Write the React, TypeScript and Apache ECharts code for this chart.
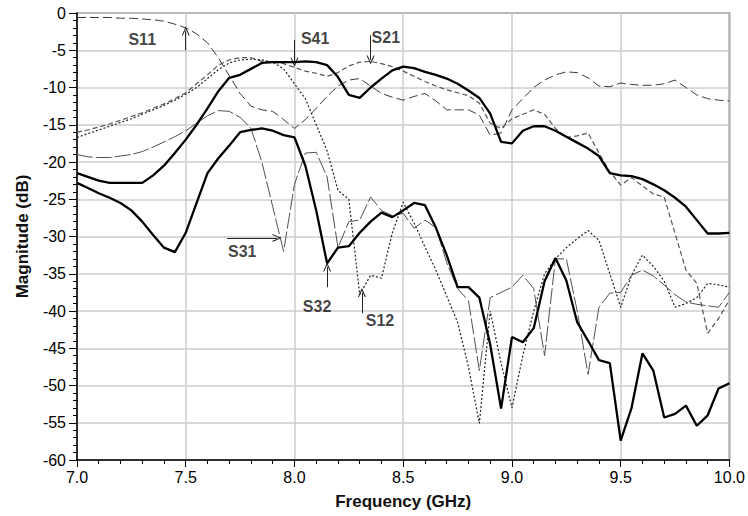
import React, { useEffect, useRef } from "react";
import * as echarts from "echarts";

const freq = [
  7.0, 7.05, 7.1, 7.15, 7.2, 7.25, 7.3, 7.35, 7.4, 7.45,
  7.5, 7.55, 7.6, 7.65, 7.7, 7.75, 7.8, 7.85, 7.9, 7.95,
  8.0, 8.05, 8.1, 8.15, 8.2, 8.25, 8.3, 8.35, 8.4, 8.45,
  8.5, 8.55, 8.6, 8.65, 8.7, 8.75, 8.8, 8.85, 8.9, 8.95,
  9.0, 9.05, 9.1, 9.15, 9.2, 9.25, 9.3, 9.35, 9.4, 9.45,
  9.5, 9.55, 9.6, 9.65, 9.7, 9.75, 9.8, 9.85, 9.9, 9.95,
  10.0,
];

const s11 = [
  -0.6, -0.6, -0.6, -0.6, -0.7, -0.7, -0.8, -0.9, -1.1, -1.5,
  -2.0, -2.8, -4.0, -6.0, -8.4, -10.8, -12.5, -13.0, -13.2, -14.3,
  -15.5, -14.3, -12.8, -11.2, -9.8, -9.0, -8.8, -9.8, -10.8, -11.3,
  -11.7, -11.2, -10.8, -11.8, -13.0, -13.0, -13.0, -13.7, -16.4, -16.1,
  -13.0, -11.5, -10.0, -9.0, -8.3, -7.9, -8.0, -8.7, -9.8, -9.9,
  -9.4, -9.6, -9.7, -9.7, -9.5, -9.0, -10.0, -11.0, -11.5, -11.7,
  -11.8,
];

const s21 = [
  -16.0, -15.7, -15.3, -14.9, -14.4, -13.9, -13.4, -12.8, -12.2, -11.5,
  -10.7, -9.5, -8.3, -7.0, -6.3, -6.0, -6.0, -6.5, -6.6, -6.8,
  -7.3, -7.8, -8.1, -8.5, -8.0, -7.1, -6.6, -6.5, -6.8, -7.2,
  -7.8, -8.5, -9.2, -9.8, -10.3, -10.7, -11.1, -12.1, -14.8, -15.5,
  -14.2, -13.6, -13.0, -13.6, -15.5, -16.7, -16.5, -16.1, -18.8, -21.3,
  -23.1, -22.1, -23.2, -24.3, -24.7, -29.6, -34.5, -36.3, -43.0, -41.0,
  -38.5,
];

const s12 = [
  -16.7, -16.2, -15.7, -15.2, -14.7, -14.2, -13.6, -13.0, -12.4, -11.7,
  -10.9, -10.0, -8.8, -7.6, -6.7, -6.3, -6.2, -6.3, -6.6, -7.5,
  -9.5, -11.5, -15.0, -18.5, -23.8, -25.0, -37.8, -35.2, -35.6, -29.5,
  -25.4, -28.2, -31.4, -34.5, -38.0, -41.5, -47.5, -55.1, -40.0, -47.0,
  -53.0, -46.0, -40.0, -35.0, -33.0, -31.5, -30.3, -29.2, -30.5, -35.0,
  -39.5, -35.2, -32.5, -34.0, -36.0, -39.5, -39.0, -38.2, -36.3, -36.5,
  -36.8,
];

const s31 = [
  -19.0, -19.3, -19.4, -19.4, -19.2, -19.0, -18.6, -18.0, -17.3, -16.6,
  -15.8, -14.8, -13.8, -13.1, -13.2, -14.0, -15.5, -20.0, -26.0, -32.0,
  -23.0, -18.8, -18.7, -22.0, -31.5, -28.0, -27.8, -24.7, -26.5, -27.2,
  -26.9, -28.9, -27.8, -28.8, -33.5, -37.0, -38.6, -48.0, -38.2, -37.5,
  -36.8, -35.2, -37.0, -46.0, -33.0, -33.0, -40.0, -48.5, -39.5, -37.6,
  -37.5, -35.2, -34.5, -35.3, -36.5, -37.8, -38.8, -39.1, -39.3, -39.5,
  -37.5,
];

const s41 = [
  -21.5, -22.0, -22.5, -22.8, -22.8, -22.8, -22.8, -21.8, -20.5, -18.8,
  -17.0, -15.0, -12.8, -10.5, -8.7, -8.3, -7.5, -6.7, -6.6, -6.6,
  -6.6, -6.5, -6.6, -7.0, -8.6, -11.0, -11.4, -10.0, -8.8, -7.7,
  -7.2, -7.4, -7.9, -8.3, -8.8, -9.5, -10.4, -11.4, -13.5, -17.3,
  -17.5, -15.8, -15.2, -15.2, -15.8, -16.6, -17.4, -18.2, -19.2, -21.5,
  -21.8, -21.9, -22.3, -23.0, -23.8, -24.8, -26.0, -27.8, -29.6, -29.6,
  -29.5,
];

const s32 = [
  -22.8, -23.5, -24.2, -24.8, -25.5, -26.5, -28.0, -29.8, -31.5, -32.1,
  -29.5, -25.5, -21.5, -19.5, -17.8, -16.0, -15.7, -15.5, -15.8, -16.4,
  -16.7, -20.5, -26.5, -33.6, -31.5, -31.3, -29.5, -28.0, -26.8, -27.4,
  -26.5, -25.5, -25.8, -28.8, -32.5, -36.8, -36.8, -38.2, -44.5, -53.1,
  -43.5, -44.2, -42.3, -36.0, -32.9, -35.9, -41.5, -44.0, -46.6, -47.0,
  -57.4, -53.0, -45.7, -48.0, -54.3, -53.8, -52.7, -55.4, -54.0, -50.4,
  -49.7,
];

// annotation labels: [freq, dB, text]
const labelPoints: [number, number, string][] = [
  [7.3, -3.6, "S11"],
  [8.095, -3.4, "S41"],
  [8.42, -3.3, "S21"],
  [7.76, -32.0, "S31"],
  [8.104, -39.4, "S32"],
  [8.393, -41.3, "S12"],
];

// arrows: [fromFreq, fromDb, toFreq, toDb]
const arrows: [number, number, number, number][] = [
  [7.5, -5.0, 7.5, -2.4],
  [8.0, -3.6, 8.0, -6.6],
  [8.35, -3.0, 8.35, -6.3],
  [7.69, -30.2, 7.92, -30.2],
  [8.15, -36.8, 8.15, -34.1],
  [8.31, -40.3, 8.31, -37.5],
];

const FONT = "'Liberation Sans', Arial, sans-serif";

const pairs = (vals: number[]) => freq.map((f, i) => [f, vals[i]]);

export default function App() {
  const ref = useRef<HTMLDivElement>(null);

  useEffect(() => {
    if (!ref.current) return;
    const chart = echarts.init(ref.current, null, { renderer: "svg" });

    const lineSeries = (
      name: string,
      vals: number[],
      color: string,
      width: number,
      type: any,
      z: number
    ) => ({
      name,
      type: "line",
      data: pairs(vals),
      showSymbol: false,
      symbol: "none",
      z,
      lineStyle: { color, width, type },
    });

    const chevron = "path://M5,0 L10,10 L8.6,10 L5,2.6 L1.4,10 L0,10 Z";

    chart.setOption({
      animation: false,
      backgroundColor: "#fff",
      textStyle: { fontFamily: FONT },
      grid: {
        left: 77,
        right: 16,
        top: 13,
        bottom: 56,
        show: true,
        borderColor: "#555",
        borderWidth: 1.5,
        backgroundColor: "transparent",
      },
      xAxis: {
        type: "value",
        min: 7,
        max: 10,
        interval: 0.5,
        name: "Frequency (GHz)",
        nameLocation: "middle",
        nameGap: 33,
        nameTextStyle: { fontSize: 17, fontWeight: "bold", color: "#111", fontFamily: FONT },
        axisLine: { onZero: false, lineStyle: { color: "#000", width: 1.5 } },
        axisTick: { show: true, length: 7, lineStyle: { color: "#000" } },
        minorTick: { show: true, splitNumber: 5, length: 4, lineStyle: { color: "#000" } },
        axisLabel: {
          formatter: (v: number) => v.toFixed(1),
          fontSize: 16,
          color: "#000",
          margin: 9,
          fontFamily: FONT,
        },
        splitLine: { show: true, lineStyle: { color: "#cdcdcd", width: 1.5 } },
      },
      yAxis: {
        type: "value",
        min: -60,
        max: 0,
        interval: 5,
        name: "Magnitude (dB)",
        nameLocation: "middle",
        nameGap: 46,
        nameTextStyle: { fontSize: 17, fontWeight: "bold", color: "#111", fontFamily: FONT },
        axisLine: { onZero: false, lineStyle: { color: "#000", width: 1.5 } },
        axisTick: { show: true, length: 8, lineStyle: { color: "#000" } },
        minorTick: { show: true, splitNumber: 5, length: 4, lineStyle: { color: "#000" } },
        axisLabel: { fontSize: 16, color: "#000", margin: 11, fontFamily: FONT },
        splitLine: { show: true, lineStyle: { color: "#cdcdcd", width: 1.5 } },
      },
      series: [
        lineSeries("S11", s11, "#3a3a3a", 1, [9, 4], 3),
        lineSeries("S21", s21, "#555555", 1.2, [5, 3], 3),
        lineSeries("S12", s12, "#222222", 1.2, [2, 2], 3),
        lineSeries("S31", s31, "#505050", 1, [16, 3], 3),
        lineSeries("S41", s41, "#000000", 2.3, "solid", 5),
        lineSeries("S32", s32, "#000000", 2.3, "solid", 5),
        {
          name: "labels",
          type: "scatter",
          data: labelPoints.map((p) => [p[0], p[1], p[2]]),
          symbolSize: 0,
          z: 10,
          silent: true,
          label: {
            show: true,
            position: "inside",
            formatter: (p: any) => p.value[2],
            fontSize: 16,
            fontWeight: "bold",
            color: "#111",
            fontFamily: FONT,
          },
          markLine: {
            silent: true,
            symbol: ["none", chevron],
            symbolSize: [8, 9],
            label: { show: false },
            lineStyle: { color: "#222", width: 1, type: "solid" },
            data: arrows.map((a) => [
              { coord: [a[0], a[1]] },
              { coord: [a[2], a[3]] },
            ]),
          },
        },
      ],
    });

    return () => chart.dispose();
  }, []);

  return (
    <div
      ref={ref}
      style={{ position: "fixed", left: 0, top: 0, width: 748, height: 516, background: "#fff" }}
    />
  );
}
